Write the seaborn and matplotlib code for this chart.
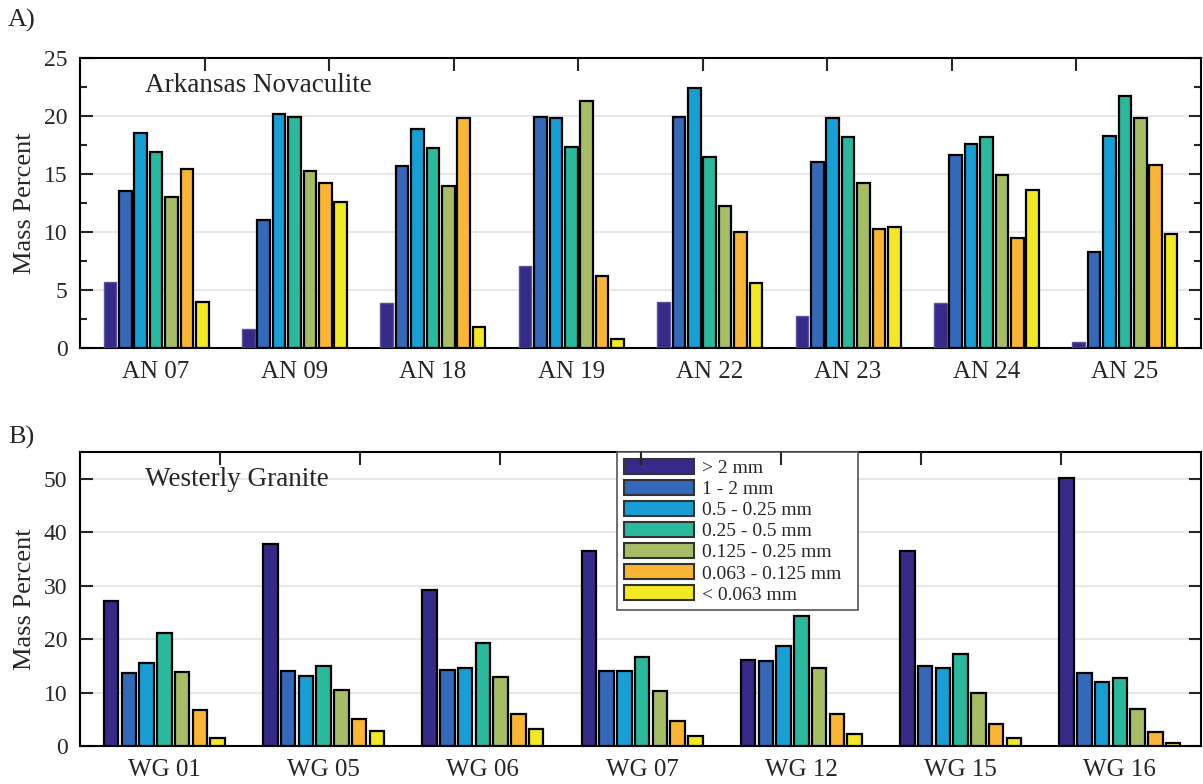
import numpy as np
import pandas as pd
import matplotlib
matplotlib.use("Agg")
import matplotlib.pyplot as plt
import seaborn as sns

# grain size classes and colours
size_classes = ["> 2 mm", "1 - 2 mm", "0.5 - 0.25 mm", "0.25 - 0.5 mm",
                "0.125 - 0.25 mm", "0.063 - 0.125 mm", "< 0.063 mm"]
class_colors = ["#352a87", "#3468b8", "#179ed4", "#2ab99c",
                "#a6bd66", "#fbb535", "#f2e823"]

# Arkansas Novaculite samples
an_samples = ["AN 07", "AN 09", "AN 18", "AN 19", "AN 22", "AN 23", "AN 24", "AN 25"]
an_gt2 = [5.7, 1.6, 3.9, 7.1, 4.0, 2.8, 3.9, 0.5]
an_1_2 = [13.5, 11.0, 15.7, 19.9, 19.9, 16.0, 16.6, 8.3]
an_05_025 = [18.5, 20.2, 18.9, 19.8, 22.4, 19.8, 17.6, 18.3]
an_025_05 = [16.9, 19.9, 17.2, 17.3, 16.5, 18.2, 18.2, 21.7]
an_0125_025 = [13.0, 15.3, 14.0, 21.3, 12.2, 14.2, 14.9, 19.8]
an_0063_0125 = [15.4, 14.2, 19.8, 6.2, 10.0, 10.3, 9.5, 15.8]
an_lt0063 = [4.0, 12.6, 1.8, 0.8, 5.6, 10.4, 13.6, 9.8]

# Westerly Granite samples
wg_samples = ["WG 01", "WG 05", "WG 06", "WG 07", "WG 12", "WG 15", "WG 16"]
wg_gt2 = [27.2, 37.7, 29.2, 36.5, 16.0, 36.5, 50.2]
wg_1_2 = [13.7, 14.0, 14.2, 14.1, 15.9, 14.9, 13.7]
wg_05_025 = [15.5, 13.1, 14.5, 14.0, 18.7, 14.5, 12.0]
wg_025_05 = [21.2, 15.0, 19.3, 16.6, 24.3, 17.2, 12.7]
wg_0125_025 = [13.9, 10.4, 13.0, 10.3, 14.6, 10.0, 6.9]
wg_0063_0125 = [6.8, 5.1, 6.0, 4.7, 6.0, 4.2, 2.6]
wg_lt0063 = [1.5, 2.8, 3.1, 1.9, 2.2, 1.5, 0.6]


def long_table(samples, series):
    rows = []
    for cls, vals in zip(size_classes, series):
        for s, v in zip(samples, vals):
            rows.append({"Sample": s, "Size": cls, "Mass": v})
    return pd.DataFrame(rows)


an_df = long_table(an_samples, [an_gt2, an_1_2, an_05_025, an_025_05,
                                an_0125_025, an_0063_0125, an_lt0063])
wg_df = long_table(wg_samples, [wg_gt2, wg_1_2, wg_05_025, wg_025_05,
                                wg_0125_025, wg_0063_0125, wg_lt0063])

sns.set_style("white")
plt.rcParams["font.family"] = ["Liberation Serif", "DejaVu Serif"]
plt.rcParams["axes.linewidth"] = 1.5

fig = plt.figure(figsize=(12.03, 7.84), dpi=100)
ax1 = fig.add_axes([80 / 1203, 1 - 348 / 784, 1121 / 1203, 290 / 784])
ax2 = fig.add_axes([80 / 1203, 1 - 746 / 784, 1121 / 1203, 294 / 784])

pal = dict(zip(size_classes, class_colors))


def style_axis(ax, df, ymax, major, minor, n_top, xlim):
    sns.barplot(data=df, x="Sample", y="Mass", hue="Size", hue_order=size_classes,
                palette=pal, edgecolor="black", linewidth=1.6, width=0.78,
                gap=0.18, saturation=1, legend=False, ax=ax, zorder=3)
    ax.set_ylim(0, ymax)
    ax.set_xlim(*xlim)
    ax.set_yticks(np.arange(0, ymax + 0.1, major))
    if minor:
        ax.set_yticks(np.arange(0, ymax + 0.1, minor), minor=True)
    ax.yaxis.grid(True, color="#e3e3e3", linewidth=1.2, zorder=0)
    ax.set_axisbelow(True)
    ax.set_xlabel("")
    ax.set_ylabel("Mass Percent", fontsize=19, labelpad=6)
    ax.tick_params(axis="y", which="both", direction="in", right=True, left=True,
                   labelsize=17, pad=9, width=1.5)
    ax.tick_params(axis="y", which="major", length=9)
    ax.tick_params(axis="y", which="minor", length=5)
    ax.tick_params(axis="x", length=0, labelsize=18, pad=9)
    for sp in ax.spines.values():
        sp.set_visible(True)
        sp.set_color("black")
        sp.set_linewidth(1.5)
    tw = ax.twiny()
    tw.set_xlim(0, 1)
    tw.set_xticks(np.arange(1, n_top) / n_top)
    tw.set_xticklabels([])
    tw.tick_params(axis="x", direction="in", length=9, width=1.5)
    for sp in tw.spines.values():
        sp.set_visible(False)


style_axis(ax1, an_df, 25, 5, 2.5, 9, (-0.55, 7.55))
style_axis(ax2, wg_df, 55, 10, None, 8, (-0.53, 6.51))

# the coarsest fraction in panel A is drawn without a dark outline
for bar in ax1.containers[0]:
    bar.set_edgecolor("#5a52a0")
    bar.set_linewidth(1.0)

ax1.text(0.058, 0.905, "Arkansas Novaculite", transform=ax1.transAxes,
         fontsize=19.5, va="center", ha="left")
ax2.text(0.058, 0.905, "Westerly Granite", transform=ax2.transAxes,
         fontsize=19.5, va="center", ha="left")

fig.text(8 / 1203, 1 - 20 / 784, "A)", fontsize=19, va="center", ha="left")
fig.text(8 / 1203, 1 - 437 / 784, "B)", fontsize=19, va="center", ha="left")

handles = [plt.Rectangle((0, 0), 1, 1, facecolor=c, edgecolor="#333333", linewidth=1.5)
           for c in class_colors]
leg = ax2.legend(handles, size_classes, loc="upper left",
                 bbox_to_anchor=(0.479, 0.0, 0.215, 1.0), mode="expand",
                 fontsize=14, frameon=True,
                 fancybox=False, edgecolor="#555555", framealpha=1,
                 handlelength=3.6, handleheight=0.8, labelspacing=0.15,
                 handletextpad=0.4, borderpad=0.35, borderaxespad=0)
leg.get_frame().set_linewidth(1.2)
leg.set_zorder(10)

fig.savefig("out.png", dpi=100)
